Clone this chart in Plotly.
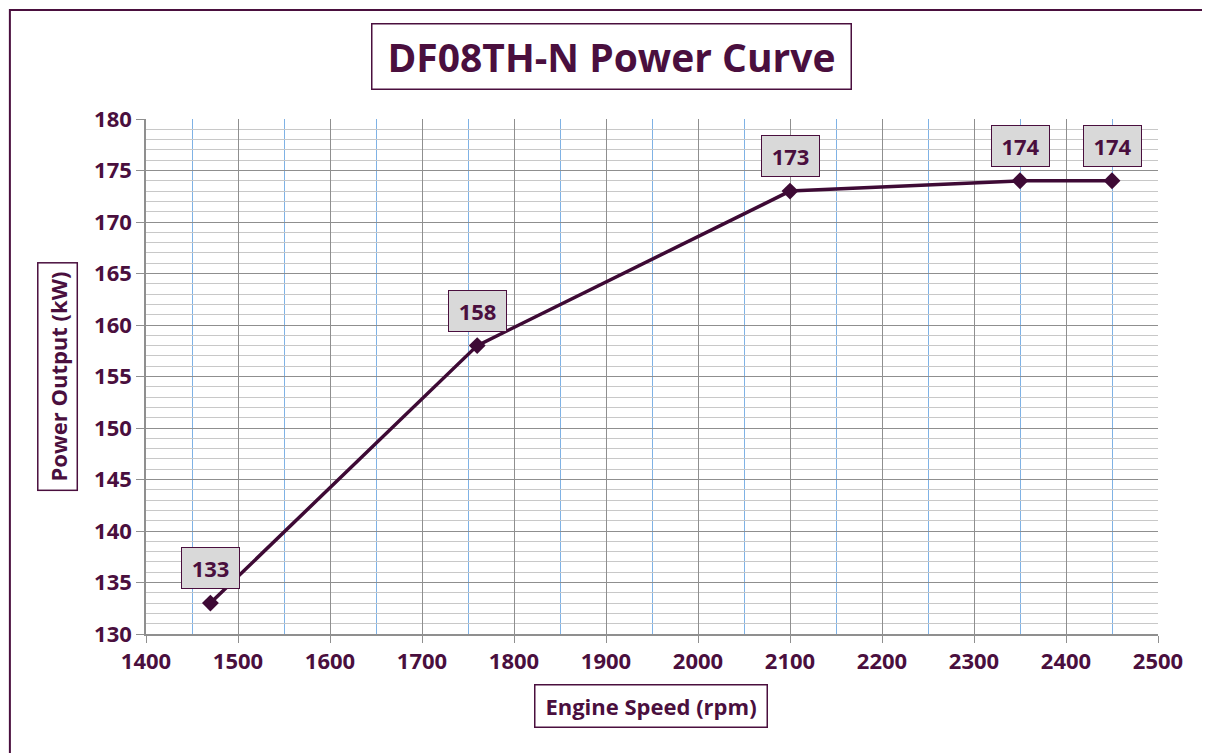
import plotly.graph_objects as go

speed_rpm = [1470, 1760, 2100, 2350, 2450]
power_kw = [133, 158, 173, 174, 174]
point_labels = ["133", "158", "173", "174", "174"]

title_text = "DF08TH-N Power Curve"
x_title = "Engine Speed (rpm)"
y_title = "Power Output (kW)"

PURPLE = "#4a0f3e"
LINE = "#3e0a35"
FONT = "Open Sans"

fig = go.Figure()
fig.add_trace(go.Scatter(
    x=speed_rpm, y=power_kw, mode="lines+markers",
    line=dict(color=LINE, width=3.5),
    marker=dict(symbol="diamond", size=13, color=LINE),
    hoverinfo="x+y", showlegend=False,
))

for xv, yv, lab in zip(speed_rpm, power_kw, point_labels):
    fig.add_annotation(
        x=xv, y=yv, xref="x", yref="y", text="<b>" + lab + "</b>",
        showarrow=False, yanchor="bottom", yshift=14,
        font=dict(family=FONT, size=22, color=PURPLE),
        bgcolor="#d9d9d9", bordercolor=PURPLE, borderwidth=1,
        width=55, height=38, borderpad=1,
    )

# title box
fig.add_annotation(
    x=0.4595, y=1.1204, xref="paper", yref="paper",
    text="<b>" + title_text + "</b>", showarrow=False,
    xanchor="center", yanchor="middle",
    font=dict(family=FONT, size=39, color=PURPLE),
    bordercolor=PURPLE, borderwidth=1.5, bgcolor="white",
    width=476, height=62, borderpad=1,
)
# y title box
fig.add_annotation(
    x=-0.0879, y=0.499, xref="paper", yref="paper",
    text="<b>" + y_title + "</b>", showarrow=False, textangle=-90,
    xanchor="center", yanchor="middle",
    font=dict(family=FONT, size=22, color=PURPLE),
    bordercolor=PURPLE, borderwidth=1.5,
    width=224, height=36, borderpad=1,
)
# x title box
fig.add_annotation(
    x=0.4995, y=-0.1398, xref="paper", yref="paper",
    text="<b>" + x_title + "</b>", showarrow=False,
    xanchor="center", yanchor="middle",
    font=dict(family=FONT, size=22, color=PURPLE),
    bordercolor=PURPLE, borderwidth=1.5,
    width=229, height=39, borderpad=1,
)

# outer chart border (extends beyond the visible area on right/bottom)
fig.add_shape(
    type="rect", xref="paper", yref="paper",
    x0=-0.1345, x1=1.2, y0=-0.4, y1=1.2118,
    line=dict(color=PURPLE, width=2), fillcolor="rgba(0,0,0,0)", layer="above",
)

fig.update_xaxes(
    range=[1400, 2500], dtick=100, tick0=1400,
    showgrid=True, gridcolor="#8f8f8f", gridwidth=1.2,
    minor=dict(dtick=50, tick0=1400, showgrid=True, gridcolor="#7fb2e5", gridwidth=1),
    ticks="outside", ticklen=7, tickcolor="#8f8f8f",
    showline=True, linecolor="#8f8f8f", linewidth=1.5,
    tickfont=dict(family=FONT, size=22, color=PURPLE, weight="bold"),
    zeroline=False, fixedrange=True,
)
fig.update_yaxes(
    range=[130, 180], dtick=5, tick0=130,
    showgrid=True, gridcolor="#8f8f8f", gridwidth=1.2,
    minor=dict(dtick=1, tick0=130, showgrid=True, gridcolor="#c8c8c8", gridwidth=1),
    ticks="outside", ticklen=8, tickcolor="#8f8f8f",
    showline=True, linecolor="#8f8f8f", linewidth=1.5,
    tickfont=dict(family=FONT, size=22, color=PURPLE, weight="bold"),
    zeroline=False, fixedrange=True,
)

fig.update_layout(
    width=1210, height=753,
    margin=dict(l=138, r=60, t=111, b=127),
    paper_bgcolor="white", plot_bgcolor="white",
    font=dict(family=FONT, color=PURPLE),
)

fig.write_html("out.html")
